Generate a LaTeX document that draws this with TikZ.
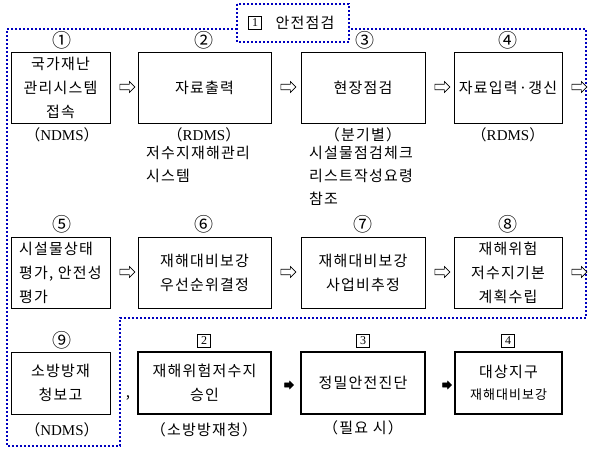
\documentclass[tikz,border=0pt]{standalone}
\usepackage{fontspec}
\setmainfont{Liberation Serif}
\newfontfamily\kr[LetterSpace=8]{Noto Sans CJK KR}
\newfontfamily\krnum{Noto Sans CJK KR}
\usetikzlibrary{shapes.arrows}
\newcommand\fwp[1]{（{\rmfamily\fontsize{15}{15}\selectfont #1}）}
\begin{document}
\begin{tikzpicture}[x=1pt,y=-1pt,
 box/.style={draw, line width=0.9pt, inner sep=0pt, font=\kr\fontsize{15}{24}\selectfont, align=center},
 tbox/.style={box, line width=2.2pt},
 num/.style={font=\krnum\fontsize{19}{19}\selectfont, inner sep=0pt},
 sq/.style={draw, line width=0.6pt, inner sep=0pt, font=\fontsize{12}{12}\selectfont, minimum size=13pt},
 lbl/.style={font=\kr\fontsize{15}{23}\selectfont, inner sep=0pt, align=left},
 warr/.style={single arrow, draw, fill=white, line width=0.6pt, minimum height=15pt, minimum width=11pt, single arrow head extend=2.5pt, inner xsep=0pt, inner ysep=2.2pt},
 barr/.style={single arrow, draw, fill=black, line width=0.4pt, minimum height=9pt, minimum width=8pt, single arrow head extend=1.5pt, inner xsep=0pt, inner ysep=1.6pt},
 dotl/.style={draw=blue!75!black, line width=2pt, dash pattern=on 2pt off 2pt}
]
\useasboundingbox (0,0) rectangle (597,453);
% dotted outline
\draw[dotl] (237,29) -- (7,29) -- (7,446) -- (120,446) -- (120,318) -- (586,318) -- (586,29) -- (349,29);
\draw[dotl, fill=white] (237,4) rectangle (349,42);
\node[sq] (s1) at (255,23) {1};
\node[lbl, font=\kr\fontsize{15}{15}\selectfont] (title) at (305,23) {안전점검};

% row 1
\node[box, minimum width=99pt, minimum height=71pt] (b1) at (60.5,87.5) {국가재난\\관리시스템\\접속};
\node[box, minimum width=133pt, minimum height=71pt] (b2) at (204.5,87.5) {자료출력};
\node[box, minimum width=124pt, minimum height=71pt] (b3) at (363,87.5) {현장점검};
\node[box, minimum width=108pt, minimum height=71pt] (b4) at (508,87.5) {자료입력·갱신};
\node[num] (n1) at (62,40) {①};
\node[num] (n2) at (204,40) {②};
\node[num] (n3) at (365,40) {③};
\node[num] (n4) at (508,40) {④};
\node[lbl] (t1) at (62,135) {\fwp{NDMS}};
\node[lbl] (t2) at (204,135) {\fwp{RDMS}};
\node[lbl] (t3) at (363,135) {（분기별）};
\node[lbl] (t4) at (508,135) {\fwp{RDMS}};
\node[lbl, anchor=north west] (t2b) at (146,146) {저수지재해관리\\시스템};
\node[lbl, anchor=north west] (t3b) at (309,146) {시설물점검체크\\리스트작성요령\\참조};
\node[warr] (a1) at (126,87) {};
\node[warr] (a2) at (287,87) {};
\node[warr] (a3) at (441,87) {};
\node[warr] (a4) at (578,87) {};

% row 2
\node[box, minimum width=99pt, minimum height=71pt, align=left] (b5) at (60.5,272.5) {시설물상태\\평가, 안전성\\평가};
\node[box, minimum width=133pt, minimum height=71pt] (b6) at (204.5,272.5) {재해대비보강\\우선순위결정};
\node[box, minimum width=124pt, minimum height=71pt] (b7) at (363,272.5) {재해대비보강\\사업비추정};
\node[box, minimum width=108pt, minimum height=71pt] (b8) at (508,272.5) {재해위험\\저수지기본\\계획수립};
\node[num] (n5) at (62,224) {⑤};
\node[num] (n6) at (204,224) {⑥};
\node[num] (n7) at (363,224) {⑦};
\node[num] (n8) at (508,224) {⑧};
\node[warr] (a5) at (126,272) {};
\node[warr] (a6) at (287,272) {};
\node[warr] (a7) at (441,272) {};
\node[warr] (a8) at (578,272) {};

% row 3
\node[box, minimum width=99pt, minimum height=62pt] (b9) at (60.5,383) {소방방재\\청보고};
\node[tbox, minimum width=133pt, minimum height=62pt] (c2) at (204.5,383) {재해위험저수지\\승인};
\node[tbox, minimum width=124pt, minimum height=62pt] (c3) at (363,383) {정밀안전진단};
\node[tbox, minimum width=107pt, minimum height=62pt] (c4) at (508.5,383) {대상지구\\[-2pt]{\fontsize{13}{13}\selectfont 재해대비보강}};
\node[num] (n9) at (62,340) {⑨};
\node[sq] (s2) at (204,341) {2};
\node[sq] (s3) at (363,341) {3};
\node[sq] (s4) at (508,341) {4};
\node[lbl] (t9) at (62,430) {\fwp{NDMS}};
\node[lbl] (tc2) at (204,430) {（소방방재청）};
\node[lbl] (tc3) at (363,428) {（필요 시）};
\node[lbl] (comma) at (128,398) {,};
\node[barr] (k1) at (288,385) {};
\node[barr] (k2) at (446,385) {};
\end{tikzpicture}
\end{document}
